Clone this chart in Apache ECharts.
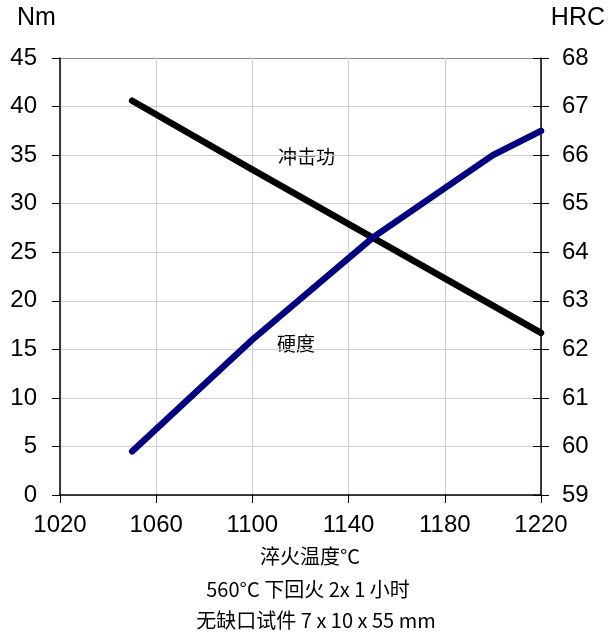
<!DOCTYPE html>
<html><head><meta charset="utf-8">
<script src="https://cdn.jsdelivr.net/npm/echarts@6/dist/echarts.min.js"></script>
<style>html,body{margin:0;padding:0;background:#fff}#c{width:608px;height:635px}</style>
</head><body><div id="c"></div>
<script>
// Data
var temps = [1050, 1100, 1150, 1200, 1220];
var impactNm = [40.6, 33.5, 26.5, 19.5, 16.7];
var hardnessHRC = [59.9, 62.2, 64.3, 66.0, 66.5];
var impactLabel = '冲击功';
var hardnessLabel = '硬度';
var xTitle = '淬火温度°C';
var note1 = '560°C 下回火 2x 1 小时';
var note2 = '无缺口试件 7 x 10 x 55 mm';
var leftUnit = 'Nm';
var rightUnit = 'HRC';

var chart = echarts.init(document.getElementById('c'));
var latin = 'Liberation Sans, Arial, sans-serif';
var lab = {color:'#000', fontSize:24, fontFamily:latin};
var cjk = 'Noto Sans CJK SC, sans-serif';
var g = '#d0d0d0';
var gridColors = [g,g,g,g,g,g,g,g,g,'#8c8c8c'];
chart.setOption({
  animation:false,
  grid:{left:60, right:67, top:58, bottom:140},
  xAxis:{type:'value', min:1020, max:1220, interval:40,
    axisLine:{lineStyle:{color:'#000', width:1.5}},
    axisTick:{show:true, length:8, lineStyle:{color:'#000'}},
    axisLabel:Object.assign({margin:18, formatter:function(v){return String(v);}}, lab),
    splitLine:{show:true, lineStyle:{color:g, width:1.2}}},
  yAxis:[
    {type:'value', min:0, max:45, interval:5, position:'left',
      axisLine:{show:true, lineStyle:{color:'#000', width:1.5}},
      axisTick:{show:true, length:8, lineStyle:{color:'#000'}},
      axisLabel:Object.assign({margin:23}, lab),
      splitLine:{show:true, lineStyle:{color:gridColors, width:1.2}}},
    {type:'value', min:59, max:68, interval:1, position:'right',
      axisLine:{show:true, lineStyle:{color:'#000', width:1.5}},
      axisTick:{show:true, length:8, lineStyle:{color:'#000'}},
      axisLabel:Object.assign({margin:21}, lab),
      splitLine:{show:false}},
    {type:'value', min:59, max:68, interval:1, position:'right',
      axisLine:{show:false},
      axisTick:{show:true, inside:true, length:8, lineStyle:{color:'#000'}},
      axisLabel:{show:false},
      splitLine:{show:false}}
  ],
  series:[
    {type:'line', yAxisIndex:0, showSymbol:false, symbol:'none',
      data:temps.map(function(t,i){return [t, impactNm[i]];}),
      lineStyle:{color:'#000', width:6.5, cap:'round', join:'round'}},
    {type:'line', yAxisIndex:1, showSymbol:false, symbol:'none',
      data:temps.map(function(t,i){return [t, hardnessHRC[i]];}),
      lineStyle:{color:'#000080', width:6.5, cap:'round', join:'round'}}
  ],
  graphic:[
    {type:'text', x:17, y:18, style:{text:leftUnit, fill:'#000', font:'25px '+latin, verticalAlign:'middle'}},
    {type:'text', x:605, y:18, style:{text:rightUnit, fill:'#000', font:'25px '+latin, align:'right', verticalAlign:'middle'}},
    {type:'text', x:278, y:157, style:{text:impactLabel, fill:'#000', font:'19px '+cjk, verticalAlign:'middle'}},
    {type:'text', x:277, y:344, style:{text:hardnessLabel, fill:'#000', font:'19px '+cjk, verticalAlign:'middle'}},
    {type:'text', x:310, y:556, style:{text:xTitle, fill:'#000', font:'20px '+cjk, align:'center', verticalAlign:'middle'}},
    {type:'text', x:308, y:589, style:{text:note1, fill:'#000', font:'20px '+cjk, align:'center', verticalAlign:'middle'}},
    {type:'text', x:316, y:620, style:{text:note2, fill:'#000', font:'20px '+cjk, align:'center', verticalAlign:'middle'}}
  ]
});
</script></body></html>
